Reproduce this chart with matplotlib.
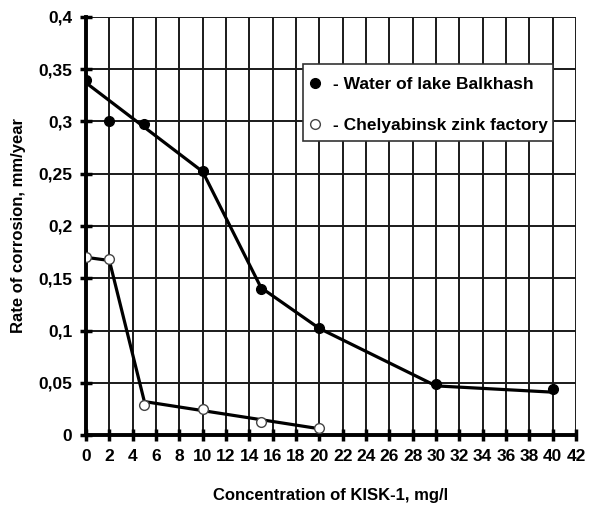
import numpy as np
import matplotlib.pyplot as plt
from matplotlib.patches import Rectangle
from matplotlib.ticker import FuncFormatter

plt.rcParams['font.family'] = ['Liberation Sans', 'DejaVu Sans']

# measured points
conc_balkhash = [0, 2, 5, 10, 15, 20, 30, 40]
rate_balkhash = [0.34, 0.30, 0.298, 0.253, 0.14, 0.102, 0.049, 0.044]
conc_chel = [0, 2, 5, 10, 15, 20]
rate_chel = [0.17, 0.168, 0.029, 0.025, 0.012, 0.007]

# drawn trend lines (as they appear in the figure)
line_balkhash_x = [0, 10, 15, 20, 30, 40]
line_balkhash_y = [0.337, 0.252, 0.141, 0.102, 0.047, 0.041]
line_chel_x = [0, 2, 5, 20]
line_chel_y = [0.17, 0.167, 0.032, 0.006]

x_ticks = list(range(0, 43, 2))
y_ticks = [0, 0.05, 0.1, 0.15, 0.2, 0.25, 0.3, 0.35, 0.4]

fig = plt.figure(figsize=(6.11, 5.07), dpi=100)
ax = fig.add_axes([0.1408, 0.142, 0.8019, 0.8245])

ax.plot(line_balkhash_x, line_balkhash_y, color='black', lw=2.3, zorder=3)
ax.plot(line_chel_x, line_chel_y, color='black', lw=2.3, zorder=3)
ax.plot(conc_balkhash, rate_balkhash, 'o', color='black', ms=7, zorder=4,
        label='- Water of lake Balkhash')
ax.plot(conc_chel, rate_chel, 'o', mfc='white', mec='#444444', mew=1.0, ms=7,
        zorder=4, label='- Chelyabinsk zink factory')

ax.set_xlim(0, 42)
ax.set_ylim(0, 0.4)
ax.set_xticks(x_ticks)
ax.set_yticks(y_ticks)
ax.yaxis.set_major_formatter(FuncFormatter(lambda v, p: ('%g' % round(v, 2)).replace('.', ',')))
ax.grid(True, color='#1a1a1a', lw=1.4)
ax.set_axisbelow(True)

for s in ['top', 'right']:
    ax.spines[s].set_visible(False)
for s in ['left', 'bottom']:
    ax.spines[s].set_linewidth(2.8)
ax.tick_params(direction='inout', length=8, width=2.5, labelsize=12.5, pad=6)
for lab in ax.get_xticklabels() + ax.get_yticklabels():
    lab.set_fontweight('bold')

ax.set_xlabel('Concentration of KISK-1, mg/l', fontsize=12, fontweight='bold', labelpad=17)
ax.set_ylabel('Rate of corrosion, mm/year', fontsize=12, fontweight='bold', labelpad=9)

# legend box drawn separately so the padding can differ horizontally / vertically
box = Rectangle((0.4429, 0.7033), 0.5101, 0.1843, transform=ax.transAxes,
                facecolor='white', edgecolor='#333333', lw=1.2, zorder=4.5)
ax.add_patch(box)
leg = ax.legend(loc='upper left', bbox_to_anchor=(0.446, 0.856), fontsize=12.5,
                frameon=False, handletextpad=0.43, handlelength=1.2,
                borderpad=0, borderaxespad=0, labelspacing=1.47)
leg.set_zorder(5)
for t in leg.get_texts():
    t.set_fontweight('bold')

fig.savefig('out.png', dpi=100)
